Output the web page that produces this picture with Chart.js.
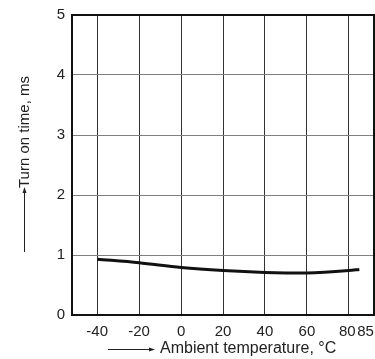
<!DOCTYPE html>
<html>
<head>
<meta charset="utf-8">
<script src="https://cdn.jsdelivr.net/npm/chart.js@4"></script>
<style>
  html, body { margin: 0; padding: 0; background: #fff; }
  #wrap { width: 375px; height: 359px; }
</style>
</head>
<body>
<div id="wrap"><canvas id="turnon"></canvas></div>
<script>
// values
const temps = [-40, -20, 0, 20, 40, 60, 80, 85];
const turnOnTime = [0.93, 0.87, 0.79, 0.74, 0.71, 0.70, 0.74, 0.76];
const xTicks = [-40, -20, 0, 20, 40, 60, 80, 85];
const yTicks = [0, 1, 2, 3, 4, 5];
const xTitle = 'Ambient temperature, °C';
const yTitle = 'Turn on time, ms';

const font = "'Liberation Sans', Arial, sans-serif";

// frame + axis titles with the little arrows
const extras = {
    id: 'extras',
    afterDraw(chart) {
        const c = chart.ctx, a = chart.chartArea;
        c.save();
        c.strokeStyle = '#111';
        c.lineWidth = 2;
        c.strokeRect(a.left, a.top, a.right - a.left, a.bottom - a.top);

        c.fillStyle = '#222';
        c.strokeStyle = '#222';
        c.textBaseline = 'middle';
        // x title
        c.font = '16px ' + font;
        c.textAlign = 'left';
        c.fillText(xTitle, 160, 349);
        c.lineWidth = 1;
        c.beginPath();
        c.moveTo(108, 349.5); c.lineTo(151, 349.5);
        c.stroke();
        c.beginPath();
        c.moveTo(155, 349.5); c.lineTo(149, 347.5); c.lineTo(149, 351.5);
        c.closePath(); c.fill();
        // y title
        c.font = '15px ' + font;
        c.save();
        c.translate(25, 132);
        c.rotate(-Math.PI / 2);
        c.textAlign = 'center';
        c.fillText(yTitle, 0, 0);
        c.restore();
        c.beginPath();
        c.moveTo(24.5, 252); c.lineTo(24.5, 192);
        c.stroke();
        c.beginPath();
        c.moveTo(24.5, 187); c.lineTo(22.5, 193); c.lineTo(26.5, 193);
        c.closePath(); c.fill();
        c.restore();
    }
};

new Chart(document.getElementById('turnon'), {
    type: 'line',
    data: {
        datasets: [{
            data: temps.map((t, i) => ({x: t, y: turnOnTime[i]})),
            borderColor: '#111',
            borderWidth: 3,
            pointRadius: 0,
            cubicInterpolationMode: 'monotone',
            fill: false,
        }],
    },
    options: {
        responsive: true,
        maintainAspectRatio: false,
        animation: false,
        events: [],
        layout: { padding: { top: 15, right: 1, left: 0, bottom: 0 } },
        plugins: { legend: { display: false }, tooltip: { enabled: false } },
        scales: {
            x: {
                type: 'linear',
                min: -52,
                max: 92,
                afterBuildTicks: s => { s.ticks = xTicks.map(v => ({value: v})); },
                afterFit: s => { s.height = 44; s.paddingLeft = 0; s.paddingRight = 0; },
                grid: {
                    color: ctx => ctx.tick && ctx.tick.value === 85 ? 'rgba(0,0,0,0)' : '#333',
                    lineWidth: 1,
                    drawTicks: false,
                },
                border: { display: false },
                ticks: {
                    color: '#222',
                    font: { family: font, size: 15 },
                    padding: 8,
                    maxRotation: 0,
                    autoSkip: false,
                    // pull 80 and 85 apart a little
                    callback: v => v === 85 ? '   85' : v === 80 ? '80\u2009' : String(v),
                },
            },
            y: {
                min: 0,
                max: 5,
                afterBuildTicks: s => { s.ticks = yTicks.map(v => ({value: v})); },
                afterFit: s => { s.width = 72; s.paddingTop = 0; s.paddingBottom = 0; },
                grid: { color: '#808080', lineWidth: 1, drawTicks: false },
                border: { display: false },
                ticks: {
                    color: '#222',
                    font: { family: font, size: 15 },
                    padding: 7,
                },
            },
        },
    },
    plugins: [extras],
});
</script>
</body>
</html>
